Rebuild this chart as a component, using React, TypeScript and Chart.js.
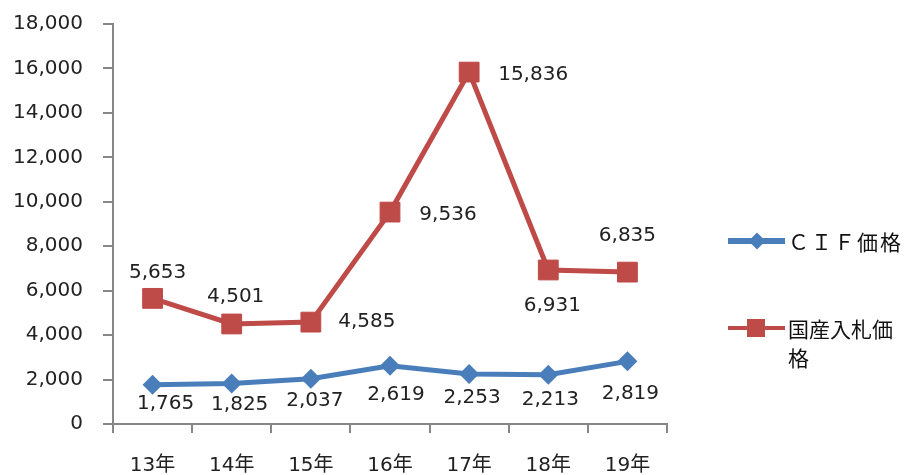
import React, { useEffect, useRef } from "react";
import { Chart, registerables } from "chart.js";

Chart.register(...registerables);

const categories = ["13年", "14年", "15年", "16年", "17年", "18年", "19年"];
const cifPrices = [1765, 1825, 2037, 2619, 2253, 2213, 2819];
const domesticPrices = [5653, 4501, 4585, 9536, 15836, 6931, 6835];
const seriesNames = ["ＣＩＦ価格", "国産入札価格"];
const yMin = 0;
const yMax = 18000;
const yStep = 2000;

// label placement offsets (dx, dy) relative to each point
const cifLabelOffsets = [[13, 19], [8, 21], [4, 22], [6, 29], [3, 24], [2, 25], [3, 32]];
const domesticLabelOffsets = [[5, -26], [4, -27], [56, 0], [58, 3], [64, 3], [4, 36], [0, -36]];

const BLUE = "#4A7EBB";
const RED = "#BE4B48";
const TEXT = "#222";
const AXIS = "#878787";
const FAMILY = '"DejaVu Sans", "Noto Sans CJK JP", sans-serif';

const fmt = (v: number) => v.toLocaleString("en-US");

const labelPlugin = {
  id: "valueLabels",
  afterDatasetsDraw(chart: any) {
    const ctx = chart.ctx;
    ctx.save();
    ctx.font = `20px ${FAMILY}`;
    ctx.fillStyle = TEXT;
    ctx.textAlign = "center";
    ctx.textBaseline = "middle";
    chart.data.datasets.forEach((ds: any, di: number) => {
      const meta = chart.getDatasetMeta(di);
      const offs = di === 0 ? cifLabelOffsets : domesticLabelOffsets;
      meta.data.forEach((pt: any, i: number) => {
        ctx.fillText(fmt(ds.data[i]), pt.x + offs[i][0], pt.y + offs[i][1]);
      });
    });
    ctx.restore();
  },
};

export default function App() {
  const ref = useRef<HTMLCanvasElement | null>(null);

  useEffect(() => {
    if (!ref.current) return;
    const chart = new Chart(ref.current, {
      type: "line",
      data: {
        labels: categories,
        datasets: [
          {
            label: seriesNames[0],
            data: cifPrices,
            borderColor: BLUE,
            backgroundColor: BLUE,
            borderWidth: 5,
            pointStyle: "rectRot",
            pointRadius: 10,
            pointBorderWidth: 0,
            pointBackgroundColor: BLUE,
            tension: 0,
          },
          {
            label: seriesNames[1],
            data: domesticPrices,
            borderColor: RED,
            backgroundColor: RED,
            borderWidth: 5,
            pointStyle: "rect",
            pointRadius: 14,
            pointBorderWidth: 1,
            pointBorderColor: RED,
            pointBackgroundColor: RED,
            tension: 0,
          },
        ],
      },
      options: {
        animation: false,
        responsive: false,
        maintainAspectRatio: false,
        layout: { padding: { left: 0, right: 245, top: 24, bottom: 0 } },
        plugins: { legend: { display: false }, tooltip: { enabled: false } },
        scales: {
          x: {
            type: "category",
            offset: true,
            grid: {
              offset: true,
              drawOnChartArea: false,
              drawTicks: true,
              tickLength: 9,
              color: AXIS,
              lineWidth: 2,
            },
            border: { color: AXIS, width: 2 },
            ticks: {
              font: { family: FAMILY, size: 20 },
              color: TEXT,
              padding: 21,
              maxRotation: 0,
              autoSkip: false,
            },
            afterFit: (s: any) => {
              s.height = 51;
              s.paddingLeft = 0;
              s.paddingRight = 0;
            },
          },
          y: {
            min: yMin,
            max: yMax,
            grid: {
              drawOnChartArea: false,
              drawTicks: true,
              tickLength: 10,
              color: AXIS,
              lineWidth: 2,
            },
            border: { color: AXIS, width: 2 },
            ticks: {
              stepSize: yStep,
              font: { family: FAMILY, size: 20 },
              color: TEXT,
              padding: 20,
              callback: (v: any) => fmt(Number(v)),
            },
            afterFit: (s: any) => {
              s.width = 113;
              s.paddingTop = 0;
              s.paddingBottom = 0;
            },
          },
        },
      },
      plugins: [labelPlugin],
    } as any);
    return () => chart.destroy();
  }, []);

  const legendText: React.CSSProperties = {
    position: "absolute",
    left: 788,
    fontFamily: '"Noto Sans CJK JP", sans-serif',
    fontSize: 21,
    lineHeight: "29px",
    color: "#111",
  };

  return (
    <div style={{ position: "fixed", left: 0, top: 0, width: 912, height: 475, background: "#fff" }}>
      <canvas ref={ref} width={912} height={475} style={{ display: "block" }} />
      {/* legend: CIF */}
      <div style={{ position: "absolute", left: 728, top: 238, width: 57, height: 6, background: BLUE }} />
      <div
        style={{
          position: "absolute",
          left: 751,
          top: 235,
          width: 12,
          height: 12,
          background: BLUE,
          transform: "rotate(45deg)",
        }}
      />
      <div style={{ ...legendText, top: 241 - 14.5, whiteSpace: "nowrap", letterSpacing: 2 }}>{seriesNames[0]}</div>
      {/* legend: domestic */}
      <div style={{ position: "absolute", left: 728, top: 326, width: 57, height: 4, background: RED }} />
      <div style={{ position: "absolute", left: 747, top: 319, width: 18, height: 18, background: RED }} />
      <div style={{ ...legendText, top: 328 - 14.5, width: 122 }}>{seriesNames[1]}</div>
    </div>
  );
}
